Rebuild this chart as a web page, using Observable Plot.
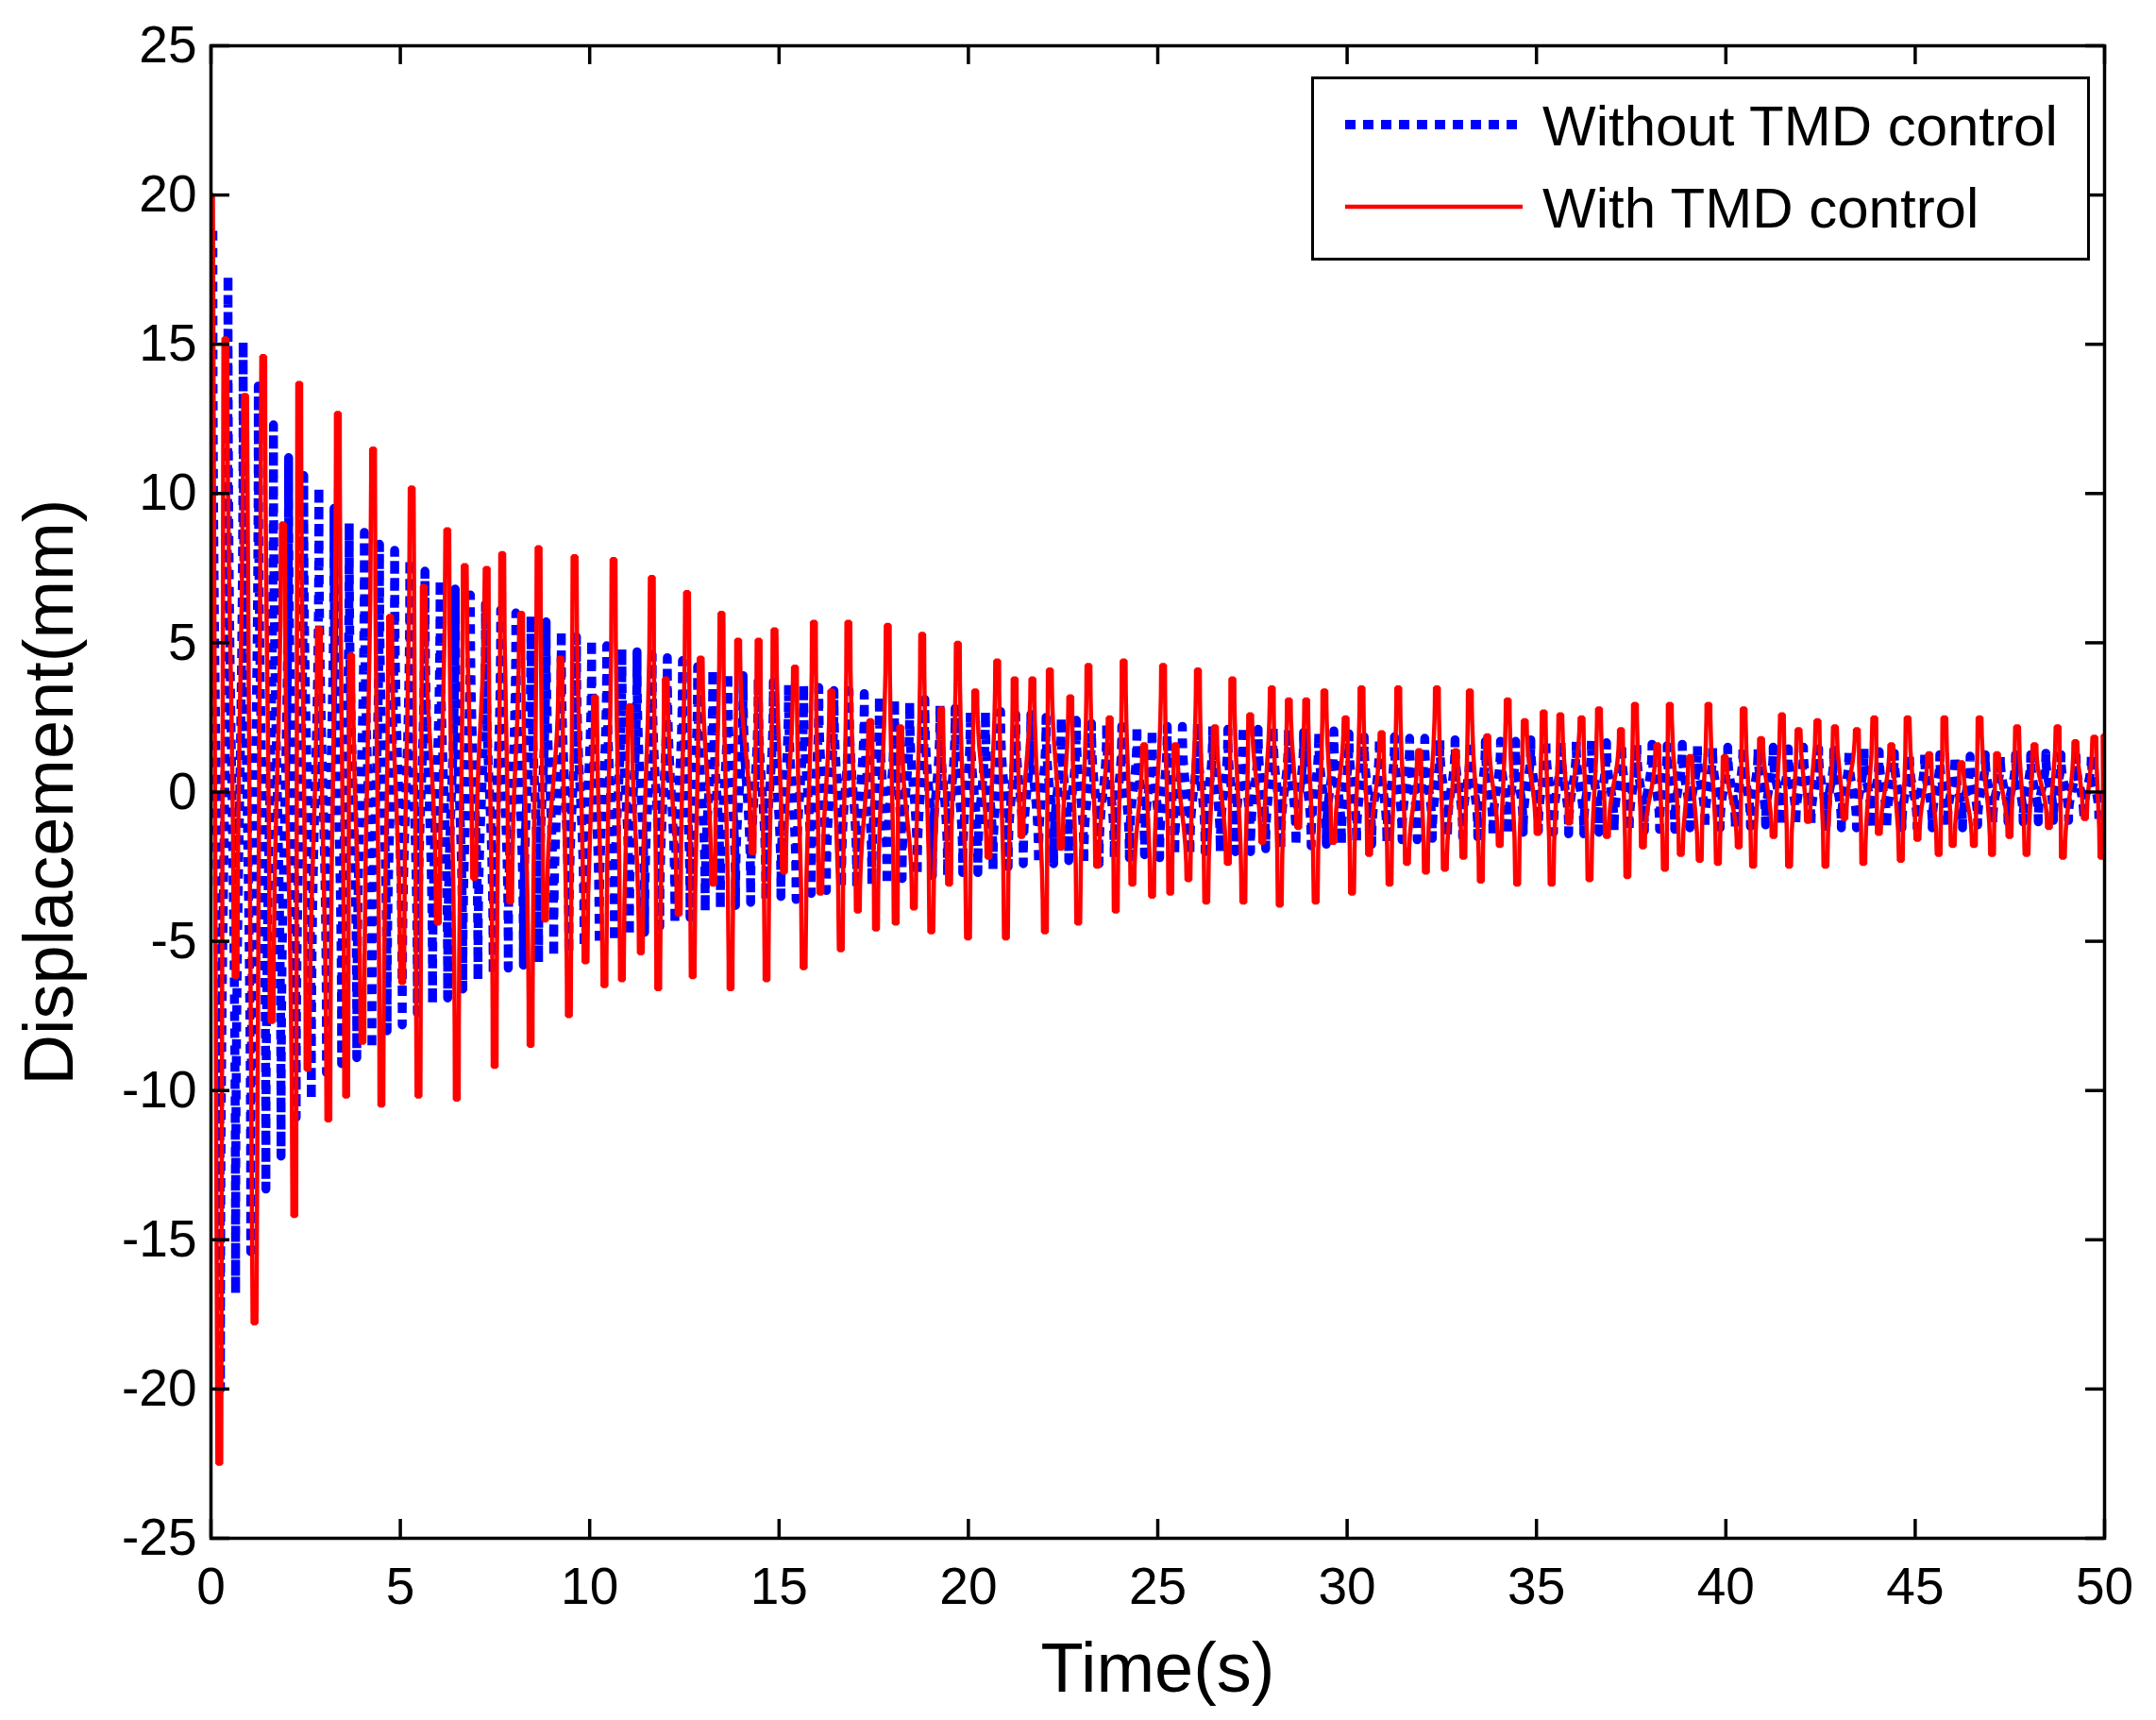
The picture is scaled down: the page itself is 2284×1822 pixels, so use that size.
<!DOCTYPE html>
<html>
<head>
<meta charset="utf-8">
<script src="https://cdn.jsdelivr.net/npm/d3@7"></script>
<script src="https://cdn.jsdelivr.net/npm/@observablehq/plot@0.6"></script>
<style>
html, body { margin: 0; padding: 0; background: #fff; overflow: hidden; }
#wrap { position: relative; width: 2284px; height: 1822px; }
#legend { position: absolute; left: 1389px; top: 81px; width: 825px; height: 195px; box-sizing: border-box; border: 3.5px solid #000; background: #fff; }
</style>
</head>
<body>
<div id="wrap"></div>
<script>
// ---- data ----
const xTicks = [0, 5, 10, 15, 20, 25, 30, 35, 40, 45, 50];
const yTicks = [-25, -20, -15, -10, -5, 0, 5, 10, 15, 20, 25];
const seriesLabels = ["Without TMD control", "With TMD control"];

// Without TMD control: one peak and one trough per oscillation (period 0.4 s)
const blueStart = 0.05;
const bluePeriod = 0.4;
const bluePeaks = [
  18.8, 17.3, 15.1, 13.6, 12.3, 11.2, 10.6, 10.2, 9.5, 9.0,
  8.7, 8.3, 8.1, 7.8, 7.4, 7.1, 6.8, 6.6, 6.3, 6.1,
  6.0, 5.9, 5.7, 5.4, 5.2, 5.1, 4.9, 4.8, 4.7, 4.6,
  4.5, 4.4, 4.2, 4.1, 4.0, 3.9, 3.8, 3.7, 3.6, 3.6,
  3.5, 3.4, 3.4, 3.3, 3.2, 3.1, 3.0, 3.1, 2.9, 2.8,
  2.7, 2.7, 2.7, 2.6, 2.6, 2.5, 2.5, 2.4, 2.3, 2.3,
  2.2, 2.2, 2.1, 2.2, 2.2, 2.3, 2.2, 2.1, 2.2, 2.1,
  2.2, 2.1, 2.0, 2.0, 2.05, 1.95, 1.85, 1.8, 1.85, 1.8,
  1.8, 1.75, 1.75, 1.7, 1.7, 1.7, 1.7, 1.75, 1.75, 1.7,
  1.7, 1.75, 1.65, 1.6, 1.6, 1.6, 1.55, 1.6, 1.55, 1.5,
  1.5, 1.5, 1.45, 1.5, 1.45, 1.5, 1.45, 1.4, 1.4, 1.45,
  1.35, 1.3, 1.25, 1.3, 1.25, 1.2, 1.2, 1.25, 1.2, 1.25,
  1.25, 1.3, 1.25, 1.2, 1.25
];
const blueTroughs = [
  -20.0, -16.8, -15.4, -13.3, -12.2, -10.9, -10.3, -9.4, -9.1, -8.9,
  -8.6, -8.0, -7.8, -7.4, -7.1, -6.9, -6.6, -6.3, -6.1, -5.9,
  -5.8, -5.7, -5.5, -5.4, -5.2, -5.1, -5.0, -4.8, -4.7, -4.5,
  -4.4, -4.2, -4.0, -3.9, -3.8, -3.7, -3.6, -3.5, -3.6, -3.4,
  -3.3, -3.2, -3.2, -3.1, -3.1, -2.9, -2.8, -2.8, -2.8, -2.7,
  -2.7, -2.6, -2.5, -2.4, -2.4, -2.4, -2.3, -2.4, -2.4, -2.2,
  -2.2, -2.1, -2.2, -2.1, -2.1, -2.0, -2.0, -2.0, -2.0, -1.9,
  -1.9, -1.8, -1.8, -1.75, -1.75, -1.7, -1.75, -1.7, -1.6, -1.6,
  -1.55, -1.5, -1.5, -1.5, -1.45, -1.4, -1.35, -1.3, -1.35, -1.4,
  -1.4, -1.35, -1.3, -1.3, -1.3, -1.25, -1.25, -1.2, -1.2, -1.2,
  -1.2, -1.15, -1.1, -1.1, -1.1, -1.1, -1.15, -1.2, -1.2, -1.2,
  -1.2, -1.2, -1.2, -1.2, -1.15, -1.2, -1.1, -1.05, -1.0, -1.0,
  -1.0, -0.95, -0.95, -0.9, -0.9
];

// With TMD control: turning points (time s, displacement mm)
const redT = [
  0, 0.22, 0.38, 0.65, 0.9, 1.15, 1.38, 1.6, 1.9, 2.2,
  2.33, 2.55, 2.85, 3.1, 3.35, 3.57, 3.7, 4.0, 4.28, 4.5,
  4.73, 5.05, 5.3, 5.48, 5.62, 5.99, 6.24, 6.49, 6.7, 6.95,
  7.28, 7.49, 7.69, 7.9, 8.19, 8.44, 8.65, 8.82, 9.23, 9.45,
  9.6, 9.89, 10.14, 10.39, 10.63, 10.85, 11.06, 11.35, 11.64, 11.81,
  12.01, 12.35, 12.57, 12.72, 12.93, 13.26, 13.48, 13.72, 13.92, 14.3,
  14.46, 14.67, 14.88, 15.13, 15.42, 15.65, 15.92, 16.09, 16.38, 16.63,
  16.83, 17.08, 17.41, 17.56, 17.87, 18.08, 18.2, 18.56, 18.78, 19.02,
  19.28, 19.49, 19.72, 19.99, 20.18, 20.53, 20.76, 20.99, 21.22, 21.4,
  21.69, 22.02, 22.15, 22.44, 22.69, 22.9, 23.17, 23.4, 23.73, 23.89,
  24.1, 24.33, 24.64, 24.85, 25.14, 25.33, 25.47, 25.81, 26.06, 26.28,
  26.51, 26.85, 26.97, 27.26, 27.44, 27.76, 28.01, 28.22, 28.46, 28.71,
  28.92, 29.17, 29.4, 29.63, 29.96, 30.13, 30.38, 30.58, 30.91, 31.12,
  31.35, 31.58, 31.9, 32.08, 32.37, 32.58, 32.87, 33.07, 33.24, 33.53,
  33.7, 34.03, 34.24, 34.49, 34.69, 35.03, 35.19, 35.4, 35.63, 35.86,
  36.19, 36.4, 36.65, 36.86, 37.23, 37.4, 37.6, 37.81, 38.19, 38.39,
  38.52, 38.81, 39.06, 39.31, 39.54, 39.79, 39.97, 40.34, 40.47, 40.72,
  40.93, 41.26, 41.48, 41.67, 41.92, 42.17, 42.42, 42.63, 42.88, 43.13,
  43.46, 43.63, 43.92, 44.04, 44.37, 44.62, 44.8, 45.06, 45.37, 45.62,
  45.77, 45.99, 46.22, 46.55, 46.7, 47.03, 47.16, 47.49, 47.69, 47.94,
  48.15, 48.53, 48.76, 48.9, 49.23, 49.48, 49.73, 49.92, 50.0
];
const redV = [
  20, -22.5, 15.2, -6.2, 13.3, -17.8, 14.6, -7.7, 9.0, -14.2,
  13.7, -9.3, 5.5, -11.0, 12.7, -10.2, 4.6, -8.4, 11.5, -10.5,
  5.9, -6.4, 10.2, -10.2, 6.9, -4.4, 8.8, -10.3, 7.6, -2.9,
  7.5, -9.2, 8.0, -3.7, 6.0, -8.5, 8.2, -4.3, 4.5, -7.5,
  7.9, -5.7, 3.2, -6.5, 7.8, -6.3, 2.9, -5.4, 7.2, -6.6,
  3.8, -4.1, 6.7, -6.2, 4.5, -3.1, 6.0, -6.6, 5.1, -2.05,
  5.1, -6.3, 5.45, -2.7, 4.2, -5.9, 5.7, -3.4, 3.4, -5.3,
  5.7, -4.0, 2.4, -4.6, 5.6, -4.4, 2.2, -3.9, 5.3, -4.7,
  2.8, -3.1, 5.0, -4.9, 3.4, -2.2, 4.4, -4.9, 3.8, -1.5,
  3.8, -4.7, 4.1, -1.9, 3.2, -4.4, 4.25, -2.5, 2.5, -4.0,
  4.4, -3.1, 1.6, -3.5, 4.25, -3.4, 1.6, -2.95, 4.1, -3.7,
  2.2, -2.4, 3.8, -3.7, 2.6, -1.7, 3.5, -3.8, 3.1, -1.2,
  3.1, -3.7, 3.4, -1.7, 2.5, -3.4, 3.5, -2.1, 2.0, -3.1,
  3.5, -2.4, 1.4, -2.7, 3.5, -2.6, 1.4, -2.2, 3.4, -3.0,
  1.9, -1.8, 3.1, -3.1, 2.4, -1.4, 2.7, -3.1, 2.6, -1.05,
  2.5, -2.95, 2.8, -1.5, 2.1, -2.85, 2.95, -1.85, 1.6, -2.6,
  2.95, -2.1, 1.2, -2.3, 2.95, -2.4, 1.2, -1.85, 2.8, -2.5,
  1.8, -1.5, 2.6, -2.5, 2.1, -1.0, 2.4, -2.5, 2.2, -0.9,
  2.1, -2.4, 2.5, -1.4, 1.6, -2.3, 2.5, -1.6, 1.3, -2.1,
  2.5, -1.8, 1.0, -1.8, 2.5, -2.1, 1.3, -1.5, 2.2, -2.1,
  1.6, -1.2, 2.2, -2.2, 1.7, -0.9, 1.85, -2.2, 1.9
];
// each turning point is held for a short time (narrow flat top seen in the figure)
const redHold = 0.05;

// ---- build tables ----
const blueData = [];
bluePeaks.forEach((p, i) => {
  blueData.push({t: blueStart + i * bluePeriod, v: p});
  blueData.push({t: blueStart + i * bluePeriod + bluePeriod / 2, v: blueTroughs[i]});
});
const redData = [];
redT.forEach((t, i) => {
  const a = Math.max(0, t - redHold), b = Math.min(50, t + redHold);
  redData.push({t: a, v: redV[i]});
  if (b > a) redData.push({t: b, v: redV[i]});
});

// ---- layout ----
const W = 2284, H = 1822;
const mL = 223, mR = 55, mT = 48, mB = 193;
const plotW = W - mL - mR, plotH = H - mT - mB;
const tickLen = 20;
const FONT = '"Liberation Sans", Arial, Helvetica, sans-serif';

const chart = Plot.plot({
  width: W,
  height: H,
  marginLeft: mL,
  marginRight: mR,
  marginTop: mT,
  marginBottom: mB,
  style: {fontFamily: FONT, fontSize: "55px", background: "#fff", color: "#000", overflow: "visible"},
  x: {domain: [0, 50]},
  y: {domain: [-25, 25]},
  marks: [
    Plot.line(blueData, {x: "t", y: "v", curve: "bump-y", stroke: "#0000ff", strokeWidth: 9.5, strokeDasharray: "10,8", strokeLinecap: "butt", clip: true}),
    Plot.line(redData, {x: "t", y: "v", curve: "bump-y", stroke: "#ff0000", strokeWidth: 4.5, strokeLinejoin: "miter", clip: true}),
    Plot.frame({stroke: "#000", strokeWidth: 3.5}),
    Plot.tickX(xTicks, {x: d => d, insetTop: plotH - tickLen, stroke: "#000", strokeWidth: 3.5}),
    Plot.tickX(xTicks, {x: d => d, insetBottom: plotH - tickLen, stroke: "#000", strokeWidth: 3.5}),
    Plot.tickY(yTicks, {y: d => d, insetRight: plotW - tickLen, stroke: "#000", strokeWidth: 3.5}),
    Plot.tickY(yTicks, {y: d => d, insetLeft: plotW - tickLen, stroke: "#000", strokeWidth: 3.5}),
    Plot.axisX(xTicks, {tickSize: 0, tickPadding: 30, tickFormat: d => String(d), label: null, fontSize: 55}),
    Plot.axisY(yTicks, {tickSize: 0, tickPadding: 15, tickFormat: d => String(d), label: null, fontSize: 55}),
    Plot.text(["Time(s)"], {frameAnchor: "bottom", dy: 139, lineAnchor: "middle", textAnchor: "middle", fontSize: 74, text: d => d}),
    Plot.text(["Displacement(mm)"], {frameAnchor: "left", dx: -170, rotate: -90, lineAnchor: "middle", textAnchor: "middle", fontSize: 74, text: d => d})
  ]
});

const wrap = document.getElementById("wrap");
wrap.appendChild(chart);

// ---- legend (inside the axes box, top-right) ----
const legend = document.createElement("div");
legend.id = "legend";
wrap.appendChild(legend);
const lsvg = d3.select(legend).append("svg")
  .attr("width", 818).attr("height", 188)
  .style("position", "absolute").style("left", "0px").style("top", "0px")
  .style("font-family", FONT);
const legendStyles = [
  {stroke: "#0000ff", width: 10, dash: "11,8", y: 48},
  {stroke: "#ff0000", width: 4.5, dash: null, y: 135}
];
seriesLabels.forEach((name, i) => {
  const s = legendStyles[i];
  const ln = lsvg.append("line")
    .attr("x1", 33).attr("x2", 221).attr("y1", s.y).attr("y2", s.y)
    .attr("stroke", s.stroke).attr("stroke-width", s.width);
  if (s.dash) ln.attr("stroke-dasharray", s.dash);
  lsvg.append("text")
    .attr("x", 242).attr("y", s.y + 22)
    .attr("font-size", 60).attr("fill", "#000")
    .text(name);
});
</script>
</body>
</html>
